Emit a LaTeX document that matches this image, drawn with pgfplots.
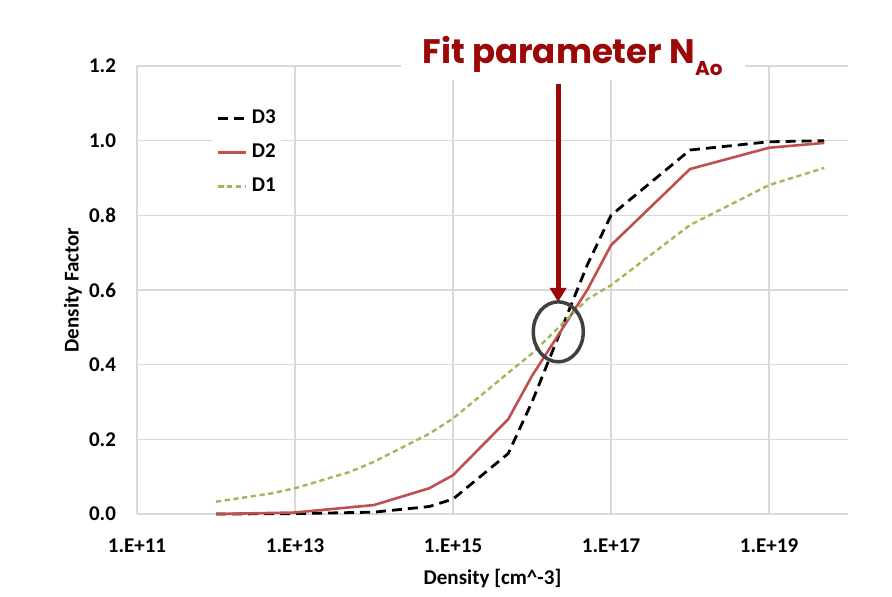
\documentclass[border=0pt]{standalone}
\usepackage{pgfplots}
\pgfplotsset{compat=1.18}
\usepackage{fontspec}
\setmainfont{Carlito}
\newfontfamily\titlefont{Poppins}
\usetikzlibrary{arrows.meta}

\definecolor{gridgray}{RGB}{217,217,217}
\definecolor{dthree}{RGB}{0,0,0}
\definecolor{dtwo}{RGB}{192,80,77}
\definecolor{done}{RGB}{155,187,89}
\definecolor{darkred}{RGB}{155,8,8}
\definecolor{ringgray}{RGB}{64,64,64}

\begin{document}
\begin{tikzpicture}
\begin{axis}[
  at={(68.5pt,41pt)}, anchor=south west,
  scale only axis,
  width=355.5pt, height=224pt,
  xmode=log,
  xmin=1e11, xmax=1e20,
  ymin=0, ymax=1.2,
  xtick={1e11,1e13,1e15,1e17,1e19},
  xticklabels={1.E+11,1.E+13,1.E+15,1.E+17,1.E+19},
  minor xtick={},
  ytick={0,0.2,0.4,0.6,0.8,1.0,1.2},
  yticklabels={0.0,0.2,0.4,0.6,0.8,1.0,1.2},
  major tick length=0pt,
  grid=major,
  major grid style={gridgray, line width=0.75pt},
  axis line style={draw=none},
  tick label style={font=\fontsize{10.5pt}{12pt}\selectfont\bfseries},
  xticklabel style={yshift=-9pt},
  yticklabel style={xshift=-7pt},
  label style={font=\fontsize{10.5pt}{12pt}\selectfont\bfseries},
  xlabel={Density [cm\^{}-3]},
  ylabel={Density Factor},
  xlabel style={at={(axis description cs:0.5,-0.143)}, anchor=center},
  ylabel style={at={(axis description cs:-0.09,0.5)}, anchor=center},
  clip=false,
  legend cell align=left,
  legend image code/.code={\draw[#1] (0pt,0pt) -- (14pt,0pt);},
  legend style={at={(rel axis cs:0.105,0.913)}, anchor=north west,
    draw=none, fill=white, inner xsep=2.5pt, inner ysep=1.5pt,
    font=\fontsize{10.5pt}{12pt}\selectfont\bfseries,
    nodes={inner sep=0pt, text height=7.5pt, text depth=2.5pt},
    row sep=7pt,
    /tikz/every odd column/.append style={column sep=2pt}},
]
\addplot[dthree, line width=1.4pt, dash pattern=on 5pt off 3pt] coordinates {
(1e12,0.0) (1e13,0.001) (1e14,0.005) (5e14,0.02) (1e15,0.04)
(5e15,0.162) (1e16,0.30) (5e16,0.667) (1e17,0.80)
(1e18,0.975) (1e19,0.997) (5e19,1.0)
};
\addlegendentry{D3}
\addplot[dtwo, line width=1.3pt] coordinates {
(1e12,0.0) (1e13,0.004) (1e14,0.024) (5e14,0.069) (1e15,0.104)
(5e15,0.254) (1e16,0.37) (5e16,0.60) (1e17,0.72)
(1e18,0.924) (1e19,0.981) (5e19,0.994)
};
\addlegendentry{D2}
\addplot[done, line width=1.2pt, dash pattern=on 2.6pt off 1.8pt] coordinates {
(1e12,0.033) (5e12,0.055) (1e13,0.069) (5e13,0.113) (1e14,0.14)
(5e14,0.215) (1e15,0.256) (5e15,0.378) (1e16,0.43) (5e16,0.575)
(1e17,0.613) (1e18,0.774) (1e19,0.881) (5e19,0.927)
};
\addlegendentry{D1}

% annotation: title, arrow and ring
\node[anchor=base, fill=white, inner xsep=11pt, inner ysep=2pt, text=darkred]
  at (axis cs:3.26e16,1.206)
  {\titlefont\bfseries\fontsize{17pt}{19pt}\selectfont Fit parameter N\raisebox{-6pt}{\fontsize{10pt}{11pt}\selectfont Ao}};
\draw[darkred, line width=2.5pt, -{Triangle[width=8pt,length=7pt]}]
  (axis cs:2.14e16,1.152) -- (axis cs:2.14e16,0.568);
\draw[ringgray, line width=1.75pt] (axis cs:2.15e16,0.488) ellipse [x radius=12.5pt, y radius=15pt];
\end{axis}
\pgfresetboundingbox
\useasboundingbox (0,0) rectangle (446pt,298pt);
\end{tikzpicture}
\end{document}
